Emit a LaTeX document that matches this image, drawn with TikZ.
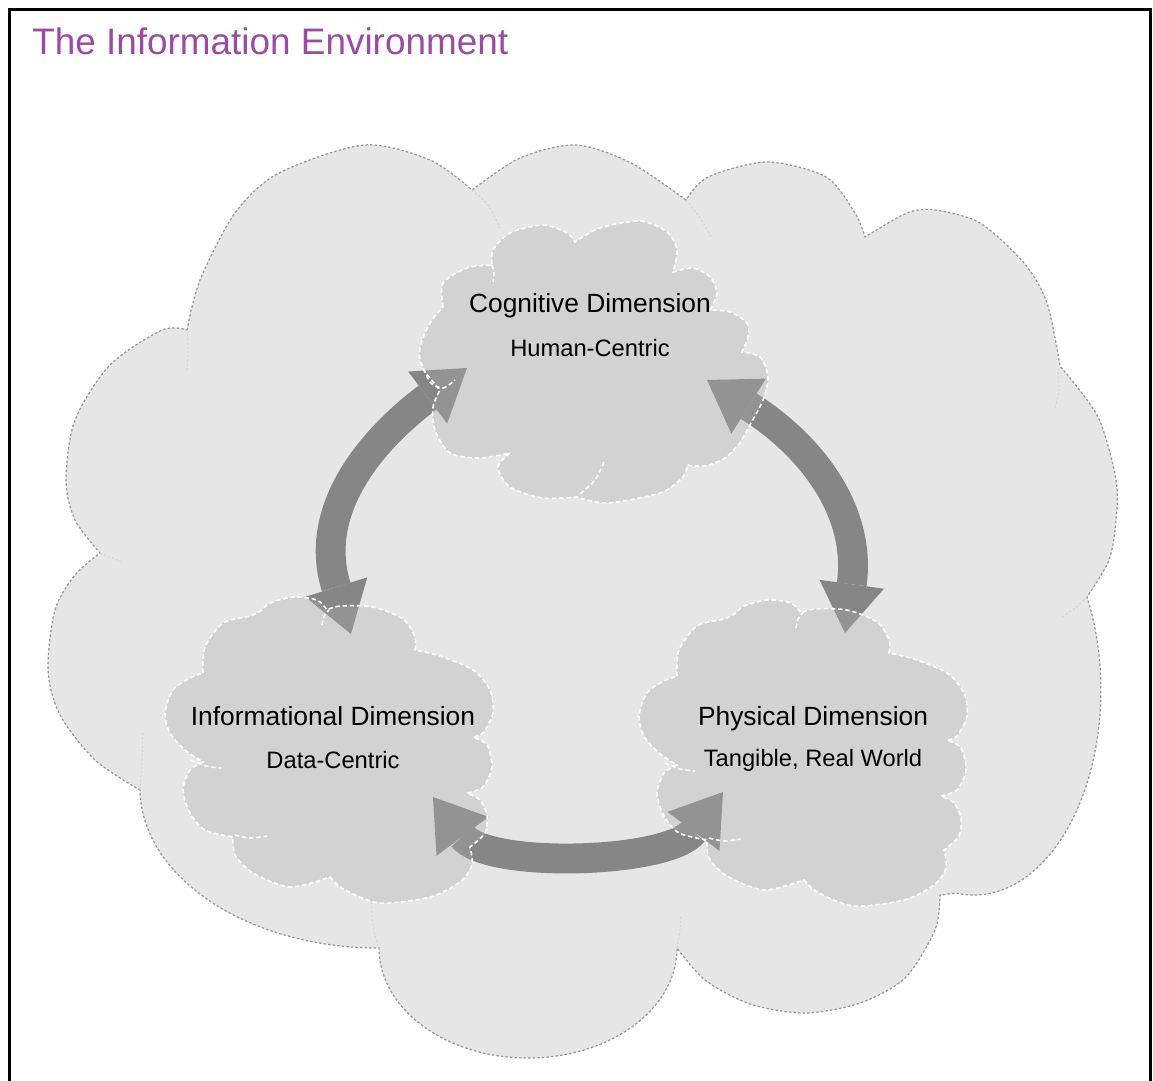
\documentclass[tikz,border=0pt]{standalone}
\usepackage{fontspec}
\setmainfont{Liberation Sans}
\usepackage{tikz}
\usetikzlibrary{arrows.meta}

\definecolor{titlepurple}{RGB}{153,77,161}
\definecolor{envfill}{RGB}{230,230,230}
\definecolor{envline}{RGB}{150,150,150}
\definecolor{envseamcol}{RGB}{212,212,212}
\definecolor{dimfill}{RGB}{174,174,174}
\definecolor{arrowgray}{RGB}{134,134,134}

% outline of the surrounding environment cloud
\newcommand{\envcloudpath}{(187,330)
  -- plot[smooth] coordinates {(187,330) (200,280) (235,213) (279,173) (364,145) (430,160) (472,190)}
  -- plot[smooth] coordinates {(472,190) (520,158) (576,145) (631,163) (686,200)}
  -- plot[smooth] coordinates {(686,200) (708,177) (767,162) (826,177) (855,213) (865,237)}
  -- plot[smooth] coordinates {(865,237) (907,213) (935,210) (980,223) (1024,263) (1047,303) (1060,366)}
  -- plot[smooth] coordinates {(1060,366) (1098,417) (1116,480) (1116,520) (1109,560) (1087,597)}
  arc[start angle=-27, end angle=98, x radius=127, y radius=205] -- (940,895)
  -- plot[smooth] coordinates {(940,895) (935,930) (905,978) (860,1003) (805,1013) (750,1004) (705,980) (677,948)}
  arc[start angle=0, end angle=180, x radius=149, y radius=110]
  arc[start angle=90, end angle=180, x radius=239, y radius=160]
  -- plot[smooth] coordinates {(140,790) (95,760) (60,715) (48,670) (55,610) (75,575) (100,553)}
  -- plot[smooth] coordinates {(100,553) (75,520) (66,480) (75,420) (110,365) (162,330) (187,330)}
  -- cycle}

% small cloud (informational; reused shifted for physical)
\newcommand{\infocloudpath}{(203,673)
  -- plot[smooth] coordinates {(203,673) (205,647) (223,623) (250,616) (262,610)}
  -- plot[smooth] coordinates {(262,610) (270,603) (293,597) (317,600) (327,610)}
  -- plot[smooth] coordinates {(327,610) (340,606) (373,607) (403,619) (415,637) (415,650)}
  -- plot[smooth] coordinates {(415,650) (440,656) (473,670) (490,690) (493,713) (483,733) (473,737)}
  -- plot[smooth] coordinates {(473,737) (487,745) (492,767) (483,787) (467,793)}
  -- plot[smooth] coordinates {(467,793) (480,800) (487,815) (485,833) (470,847)}
  -- plot[smooth] coordinates {(470,847) (472,865) (460,882) (430,897) (380,903) (345,890) (330,877)}
  -- plot[smooth] coordinates {(330,877) (290,887) (253,873) (235,855) (233,837)}
  -- plot[smooth] coordinates {(233,837) (205,830) (190,813) (183,790) (190,770) (203,762)}
  -- plot[smooth] coordinates {(203,762) (185,750) (170,733) (165,713) (173,690) (190,678) (203,673)}
  -- cycle}

\newcommand{\cogcloudpath}{(443,307)
  -- plot[smooth] coordinates {(443,307) (443,283) (467,268) (492,265)}
  -- plot[smooth] coordinates {(492,265) (493,250) (510,233) (543,225) (567,233) (575,242)}
  -- plot[smooth] coordinates {(575,242) (600,228) (640,221) (667,232) (677,250) (673,272)}
  -- plot[smooth] coordinates {(673,272) (693,268) (710,277) (717,293) (710,310)}
  -- plot[smooth] coordinates {(710,310) (730,312) (747,323) (748,337) (742,352)}
  -- plot[smooth] coordinates {(742,352) (760,357) (768,377) (763,400) (750,425) (740,443)}
  -- plot[smooth] coordinates {(740,443) (725,458) (705,466) (687,465)}
  -- plot[smooth] coordinates {(687,465) (683,477) (660,493) (607,503) (577,497)}
  -- plot[smooth] coordinates {(577,497) (543,498) (510,487) (498,467) (510,453)}
  -- plot[smooth] coordinates {(510,453) (480,458) (450,453) (435,430) (433,407) (440,390)}
  -- plot[smooth] coordinates {(440,390) (422,367) (420,347) (430,323) (443,307)}
  -- cycle}

\begin{document}
\begin{tikzpicture}[x=0.02cm,y=-0.02cm,
  envcloud/.style={fill=envfill, draw=envline, line width=0.7pt, dash pattern=on 1.4pt off 1.2pt},
  envseam/.style={draw=envseamcol, line width=0.6pt, dash pattern=on 1.2pt off 1.2pt},
  dimcloud/.style={fill=dimfill, fill opacity=0.34, draw=white, line width=0.9pt, dash pattern=on 2.5pt off 1.6pt},
  dimseam/.style={draw=white, line width=0.9pt, dash pattern=on 2.5pt off 1.6pt},
  dimarrow/.style={draw=arrowgray, line width=17pt,
    {Triangle[length=28pt,width=37pt,line width=0pt]}-{Triangle[length=28pt,width=37pt,line width=0pt]}},
  dimlabel/.style={anchor=base, inner sep=0pt, font=\fontsize{15}{18}\selectfont},
  sublabel/.style={anchor=base, inner sep=0pt, font=\fontsize{13.5}{16}\selectfont}]
  \useasboundingbox (0,0) rectangle (1153,1080);

  % frame and title
  \draw[line width=1.7pt] (9.5,1090) -- (9.5,9.5) -- (1150,9.5) -- (1150,1090);
  \node[anchor=base west, inner sep=0pt, text=titlepurple, font=\fontsize{21}{25}\selectfont] (title) at (32,54) {The Information Environment};

  % environment cloud
  \path[envcloud] \envcloudpath;
  \draw[envseam] plot[smooth] coordinates {(187,330) (188,350) (187,372)};
  \draw[envseam] plot[smooth] coordinates {(1058,368) (1059,390) (1055,408)};
  \draw[envseam] plot[smooth] coordinates {(472,190) (488,205) (500,228)};
  \draw[envseam] plot[smooth] coordinates {(686,200) (700,218) (712,238)};
  \draw[envseam] plot[smooth] coordinates {(1087,597) (1075,608) (1061,618)};
  \draw[envseam] plot[smooth] coordinates {(677,948) (680,930) (681,915)};
  \draw[envseam] plot[smooth] coordinates {(379,950) (373,925) (371,897)};
  \draw[envseam] plot[smooth] coordinates {(140,790) (142,760) (143,733)};
  \draw[envseam] plot[smooth] coordinates {(100,553) (110,557) (121,562)};

  % arrow ends
  \coordinate (cogW) at (467,368);
  \coordinate (cogE) at (707,380);
  \coordinate (infoN) at (351,634);
  \coordinate (infoE) at (433,797);
  \coordinate (physN) at (845,633);
  \coordinate (physW) at (723,792);

  \draw[dimarrow] (cogW) .. controls (371,440) and (312,510) .. (infoN);
  \draw[dimarrow] (cogE) .. controls (809,444) and (862,510) .. (physN);
  \draw[dimarrow] (infoE) .. controls (487,869) and (669,864) .. (physW);

  % dimension clouds
  \path[dimcloud] \cogcloudpath;
  \draw[dimseam] plot[smooth] coordinates {(604,462) (595,480) (580,494)};
  \draw[dimseam] plot[smooth] coordinates {(492,265) (494,274) (493,282)};
  \draw[dimseam] plot[smooth] coordinates {(421,362) (430,382) (443,388) (455,380)};

  \path[dimcloud] \infocloudpath;
  \draw[dimseam] plot[smooth] coordinates {(322,625) (324,616) (329,610)};
  \draw[dimseam] plot[smooth] coordinates {(191,760) (206,766) (221,768)};
  \draw[dimseam] plot[smooth] coordinates {(235,835) (250,838) (267,836)};
  \draw[dimseam] plot[smooth] coordinates {(330,877) (335,883) (341,888)};

  \begin{scope}[shift={(474,3)}]
    \path[dimcloud] \infocloudpath;
    \draw[dimseam] plot[smooth] coordinates {(322,625) (324,616) (329,610)};
    \draw[dimseam] plot[smooth] coordinates {(191,760) (206,766) (221,768)};
    \draw[dimseam] plot[smooth] coordinates {(235,835) (250,838) (267,836)};
    \draw[dimseam] plot[smooth] coordinates {(330,877) (335,883) (341,888)};
  \end{scope}

  % labels
  \node[dimlabel] (cog) at (590,312) {Cognitive Dimension};
  \node[sublabel] (cogsub) at (590,356) {Human-Centric};
  \node[dimlabel] (info) at (333,725) {Informational Dimension};
  \node[sublabel] (infosub) at (333,768) {Data-Centric};
  \node[dimlabel] (phys) at (813,725) {Physical Dimension};
  \node[sublabel] (physsub) at (813,766) {Tangible, Real World};
\end{tikzpicture}
\end{document}
